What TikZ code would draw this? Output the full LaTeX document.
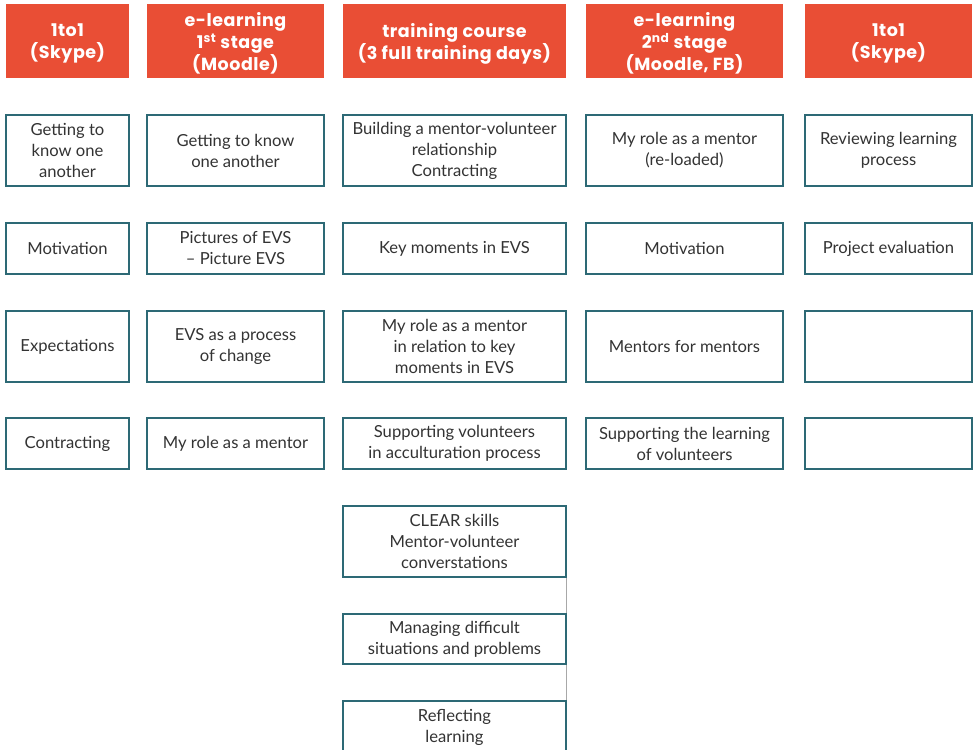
\documentclass[tikz,border=0pt]{standalone}
\usepackage{fontspec}
\setmainfont{Lato}
\newfontfamily\hfont[LetterSpace=3]{Poppins}
\definecolor{hred}{HTML}{E94E35}
\definecolor{bord}{HTML}{2D6975}
\definecolor{txt}{HTML}{333333}
\definecolor{gline}{HTML}{A8A8A8}
\begin{document}
\begin{tikzpicture}[x=1pt,y=-1pt,
  hdr/.style={fill=hred,draw=none,inner sep=0pt,minimum height=74pt},
  hdrtxt/.style={inner sep=0pt,align=center,text=white,
    font=\hfont\bfseries\fontsize{17.5}{22}\selectfont},
  bx/.style={draw=bord,line width=1.2pt,fill=white,inner sep=0pt,align=center,text=txt,
    font=\fontsize{16.6}{21}\selectfont},
  link/.style={draw=gline,line width=0.8pt}]
\useasboundingbox (0,0) rectangle (973,749);
% headers
\node[hdr,minimum width=123pt] (h1) at (67.5,41) {};
\node[hdr,minimum width=177pt] (h2) at (235.5,41) {};
\node[hdr,minimum width=223pt] (h3) at (454.5,41) {};
\node[hdr,minimum width=197pt] (h4) at (684.5,41) {};
\node[hdr,minimum width=167pt] (h5) at (888.5,41) {};
\node[hdrtxt] (t1) at ([yshift=-2.5pt]h1.center) {1to1\\(Skype)};
\node[hdrtxt] (t2) at ([yshift=-2.5pt]h2.center) {e-learning\\1\textsuperscript{st} stage\\(Moodle)};
\node[hdrtxt] (t3) at ([yshift=-2.5pt]h3.center) {training course\\(3 full training days)};
\node[hdrtxt] (t4) at ([yshift=-2.5pt]h4.center) {e-learning\\2\textsuperscript{nd} stage\\(Moodle, FB)};
\node[hdrtxt] (t5) at ([yshift=-2.5pt]h5.center) {1to1\\(Skype)};
% column 1
\node[bx,minimum width=123pt,minimum height=71pt] (a1) at (67.5,150.5) {Getting to\\know one\\another};
\node[bx,minimum width=123pt,minimum height=51pt] (a2) at (67.5,248.5) {Motivation};
\node[bx,minimum width=123pt,minimum height=71pt] (a3) at (67.5,346.5) {Expectations};
\node[bx,minimum width=123pt,minimum height=51pt] (a4) at (67.5,443.5) {Contracting};
% column 2
\node[bx,minimum width=177pt,minimum height=71pt] (b1) at (235.5,150.5) {Getting to know\\one another};
\node[bx,minimum width=177pt,minimum height=51pt] (b2) at (235.5,248.5) {Pictures of EVS\\– Picture EVS};
\node[bx,minimum width=177pt,minimum height=71pt] (b3) at (235.5,346.5) {EVS as a process\\of change};
\node[bx,minimum width=177pt,minimum height=51pt] (b4) at (235.5,443.5) {My role as a mentor};
% column 3
\node[bx,minimum width=223pt,minimum height=71pt] (c1) at (454.5,150.5) {Building a mentor-volunteer\\relationship\\Contracting};
\node[bx,minimum width=223pt,minimum height=51pt] (c2) at (454.5,248.5) {Key moments in EVS};
\node[bx,minimum width=223pt,minimum height=71pt] (c3) at (454.5,346.5) {My role as a mentor\\in relation to key\\moments in EVS};
\node[bx,minimum width=223pt,minimum height=51pt] (c4) at (454.5,443.5) {Supporting volunteers\\in acculturation process};
\node[bx,minimum width=223pt,minimum height=71pt] (c5) at (454.5,541.5) {CLEAR skills\\Mentor-volunteer\\converstations};
\node[bx,minimum width=223pt,minimum height=50pt] (c6) at (454.5,639) {Managing difficult\\situations and problems};
\node[bx,minimum width=223pt,minimum height=52pt] (c7) at (454.5,727) {Reflecting\\learning};
% column 4
\node[bx,minimum width=197pt,minimum height=71pt] (d1) at (684.5,150.5) {My role as a mentor\\(re-loaded)};
\node[bx,minimum width=197pt,minimum height=51pt] (d2) at (684.5,248.5) {Motivation};
\node[bx,minimum width=197pt,minimum height=71pt] (d3) at (684.5,346.5) {Mentors for mentors};
\node[bx,minimum width=197pt,minimum height=51pt] (d4) at (684.5,443.5) {Supporting the learning\\of volunteers};
% column 5
\node[bx,minimum width=167pt,minimum height=71pt] (e1) at (888.5,150.5) {Reviewing learning\\process};
\node[bx,minimum width=167pt,minimum height=51pt] (e2) at (888.5,248.5) {Project evaluation};
\node[bx,minimum width=167pt,minimum height=71pt] (e3) at (888.5,346.5) {};
\node[bx,minimum width=167pt,minimum height=51pt] (e4) at (888.5,443.5) {};
% thin connectors
\draw[link] (c5.south east) -- (c6.north east);
\draw[link] (c6.south east) -- (c7.north east);
\end{tikzpicture}
\end{document}
